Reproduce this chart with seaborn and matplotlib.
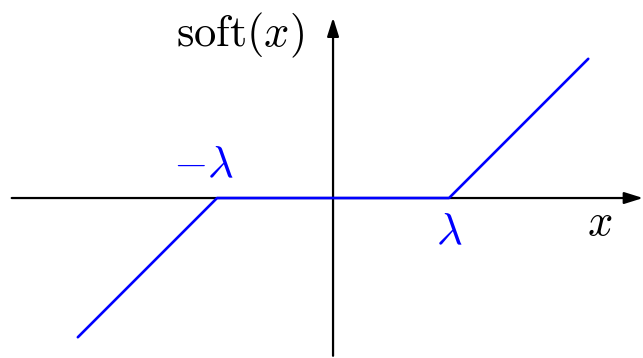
import matplotlib
matplotlib.use("Agg")
import matplotlib.pyplot as plt
import seaborn as sns
from matplotlib.patches import FancyArrowPatch

sns.set_theme(style="white")
plt.rcParams["mathtext.fontset"] = "cm"

# Soft-threshold function, threshold lambda = 1
x_vals = [-2.2, -1.0, 1.0, 2.2]
y_vals = [-1.2, 0.0, 0.0, 1.2]

fig = plt.figure(figsize=(6.43, 3.58), dpi=100)
ax = fig.add_axes([0, 0, 1, 1])
ax.set_xlim(-2.871, 2.672)
ax.set_ylim(-1.379, 1.707)
ax.axis("off")

# coordinate axes with arrow heads
for start, end in [((-2.77, 0), (2.672, 0)), ((0, -1.36), (0, 1.555))]:
    ax.add_patch(FancyArrowPatch(start, end, arrowstyle="-|>,head_length=7,head_width=2.2",
                                 mutation_scale=1.6, color="black", lw=1.6,
                                 shrinkA=0, shrinkB=0, zorder=1))

sns.lineplot(x=x_vals, y=y_vals, ax=ax, color="#0000ff", lw=1.9, sort=False,
             estimator=None, zorder=2)

fs = 32
ax.text(-0.8, 1.405, r"$\mathrm{soft}(x)$", fontsize=fs, ha="center", va="center", color="black")
ax.text(2.30, -0.207, r"$x$", fontsize=fs, ha="center", va="center", color="black")
ax.text(-1.12, 0.284, r"$-\lambda$", fontsize=fs, ha="center", va="center", color="#0000ff")
ax.text(1.0, -0.293, r"$\lambda$", fontsize=fs, ha="center", va="center", color="#0000ff")

fig.savefig("out.png", dpi=100)
